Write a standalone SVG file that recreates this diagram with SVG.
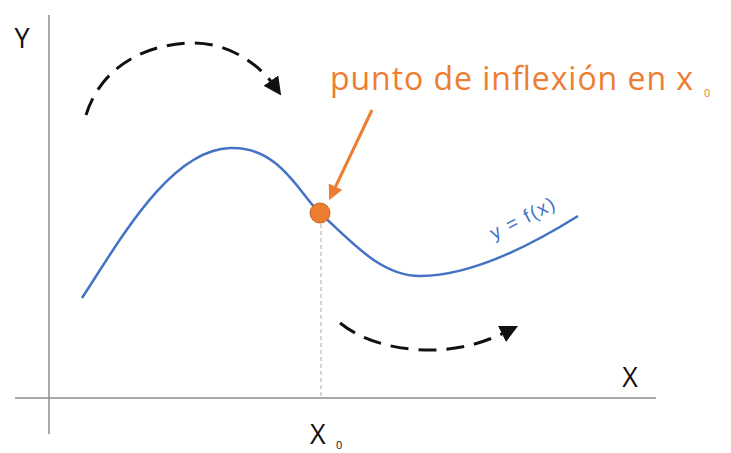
<svg xmlns="http://www.w3.org/2000/svg" width="731" height="453" viewBox="0 0 731 453">
<style>
.axis{stroke:#8c8c8c;stroke-width:1.5;fill:none}
.lbl{font-family:"Open Sans","Liberation Sans",sans-serif;fill:#111}
.dash{stroke:#111;stroke-width:3;fill:none;stroke-dasharray:18,10}
</style>
<defs>
<marker id="ah" markerWidth="6" markerHeight="6" refX="3" refY="3" orient="auto" markerUnits="strokeWidth"><path d="M0,0 L6,3 L0,6 z" fill="#111"/></marker>
<marker id="oah" markerWidth="5" markerHeight="5" refX="2" refY="2.5" orient="auto" markerUnits="strokeWidth"><path d="M0,0 L5,2.5 L0,5 z" fill="#ED7D31"/></marker>
</defs>
<g id="axes">
<line class="axis" x1="49" y1="15" x2="49" y2="434"/>
<line class="axis" x1="15" y1="398" x2="656" y2="398"/>
<text class="lbl" x="22" y="48" font-size="27" text-anchor="middle">Y</text>
<text class="lbl" x="630" y="387" font-size="27" text-anchor="middle">X</text>
<text class="lbl" x="310" y="444" font-size="27">X</text>
<text class="lbl" x="336" y="449" font-size="11">0</text>
</g>
<g id="curve">
<path d="M82,298 C120,240 170,150 230,148 C280,146 300,195 320,213 C350,240 380,276 420,276 C470,276 530,246 578,216" stroke="#4472C4" stroke-width="2.5" fill="none"/>
<text x="494" y="240" font-family="Liberation Sans,sans-serif" font-size="19" fill="#4472C4" textLength="70" transform="rotate(-27 494 240)">y = f(x)</text>
</g>
<g id="guide">
<line x1="321" y1="224" x2="321" y2="398" stroke="#bbb" stroke-width="1.2" stroke-dasharray="4,3"/>
</g>
<g id="point">
<circle cx="320" cy="213" r="10" fill="#ED7D31" stroke="#c8641e" stroke-width="1"/>
</g>
<g id="label">
<text x="330" y="90" font-family="Open Sans,Liberation Sans,sans-serif" font-size="32" fill="#ED7D31" textLength="363">punto de inflexión en x</text>
<text x="704" y="97" font-family="Open Sans,Liberation Sans,sans-serif" font-size="11" fill="#ED7D31">0</text>
</g>
<g id="connectors">
<line x1="372" y1="110" x2="333" y2="192" stroke="#ED7D31" stroke-width="3" marker-end="url(#oah)"/>
<path class="dash" d="M86,115 C100,70 140,45 190,43 C230,42 260,65 276,88" marker-end="url(#ah)"/>
<path class="dash" d="M340,323 C365,343 400,350 430,350 C465,350 490,340 510,330" marker-end="url(#ah)"/>
</g>
</svg>
